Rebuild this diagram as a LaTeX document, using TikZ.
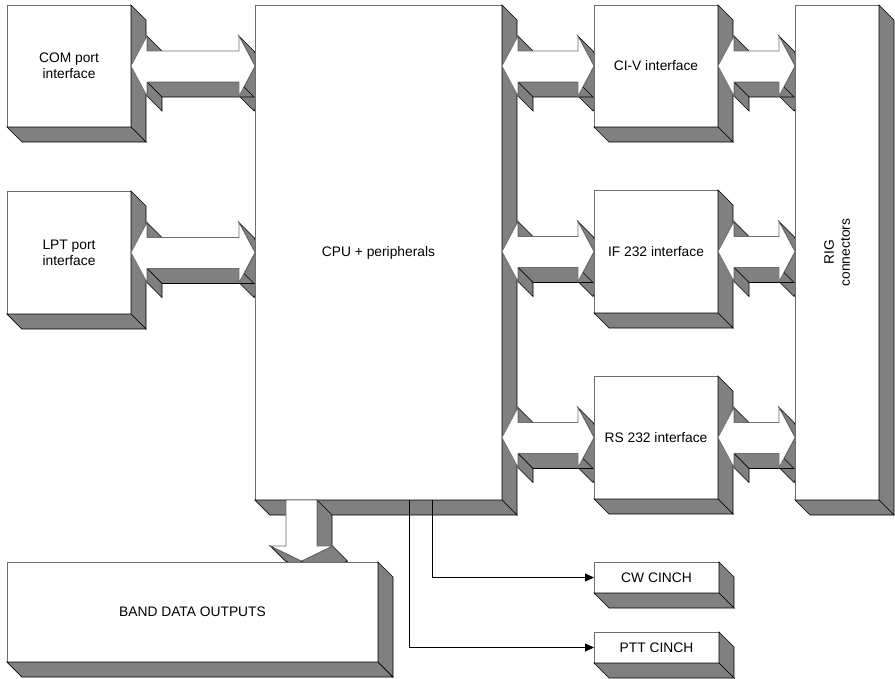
\documentclass[tikz,border=0pt]{standalone}
\usepackage{fontspec}
\setmainfont{Liberation Sans}
\usetikzlibrary{arrows.meta}
\definecolor{sidegray}{HTML}{808080}
\definecolor{frontline}{HTML}{6E6E6E}
\tikzset{
  side/.style={fill=sidegray, draw=black, line width=0.7pt, line join=miter},
  front/.style={fill=white, draw=frontline, line width=0.7pt},
  box/.style={front, inner sep=0pt, outer sep=0pt, align=center,
    font=\fontsize{13.8}{16}\selectfont},
  lbl/.style={inner sep=0pt, align=center, font=\fontsize{13.8}{16}\selectfont},
  wire/.style={draw=black, line width=0.9pt, -{Triangle[length=9pt,width=8pt]}}
}
% extruded polygon; list starts after the implicit first vertex 0/0 and ends with 0/0
\newcommand\solidpoly[1]{%
  \foreach \xa/\ya [remember=\xa as \xb (initially 0), remember=\ya as \yb (initially 0)] in {#1}{%
    \pgfmathsetmacro\face{((\ya)-(\yb))-((\xa)-(\xb))}%
    \ifdim\face pt>0pt
      \filldraw[side] (\xb,\yb) -- (\xa,\ya) -- (\xa+15,\ya+15) -- (\xb+15,\yb+15) -- cycle;
    \fi
  }%
  \filldraw[front] (0,0) \foreach \xa/\ya in {#1}{ -- (\xa,\ya)} -- cycle;
}
\newcommand\dblarrow[2]{%
  \begin{scope}[shift={(#1)}]
    \solidpoly{16/-30, 16/-15, #2-16/-15, #2-16/-30, #2/0, #2-16/30, #2-16/16, 16/16, 16/30, 0/0}
  \end{scope}}
\newcommand\boxsides[1]{%
  \filldraw[side] (#1.north east) -- ++(15,15) -- ([shift={(15,15)}]#1.south east) -- (#1.south east) -- cycle;
  \filldraw[side] (#1.south west) -- ++(15,15) -- ([shift={(15,15)}]#1.south east) -- (#1.south east) -- cycle;}
\begin{document}
\begin{tikzpicture}[x=1pt, y=-1pt]
\useasboundingbox (0,0) rectangle (895,678);
% left boxes
\node[box, minimum width=124pt, minimum height=122pt] (com) at (69,66) {COM port\\interface};
\boxsides{com}
\node[box, minimum width=124pt, minimum height=123pt] (lpt) at (69,252.5) {LPT port\\interface};
\boxsides{lpt}
% arrows left boxes -> CPU
\dblarrow{com.east}{124}
\dblarrow{lpt.east}{124}
% CPU
\node[box, minimum width=247pt, minimum height=495pt] (cpu) at (378.5,252.5) {CPU + peripherals};
\boxsides{cpu}
% arrows CPU -> right boxes
\coordinate (t1) at (cpu.east |- 0,66);
\coordinate (t2) at (cpu.east |- 0,251.5);
\coordinate (t3) at (cpu.east |- 0,437.5);
\dblarrow{t1}{92}
\dblarrow{t2}{92}
\dblarrow{t3}{92}
% arrow CPU -> band data
\begin{scope}[shift={([xshift=31pt]cpu.south west)}]
  \solidpoly{31/0, 31/46, 46.5/46, 15.5/61, -15.5/46, 0/46, 0/0}
\end{scope}
% right interface boxes
\node[box, minimum width=124pt, minimum height=122pt] (civ) at (656,66) {CI-V interface};
\boxsides{civ}
\node[box, minimum width=124pt, minimum height=123pt] (ifb) at (656,251.5) {IF 232 interface};
\boxsides{ifb}
\node[box, minimum width=124pt, minimum height=123pt] (rs) at (656,437.5) {RS 232 interface};
\boxsides{rs}
% arrows -> RIG
\dblarrow{civ.east}{77}
\dblarrow{ifb.east}{77}
\dblarrow{rs.east}{77}
% RIG connectors
\node[box, minimum width=84pt, minimum height=495pt] (rig) at (837,252.5) {};
\boxsides{rig}
\node[lbl, rotate=90] (rigtext) at (rig.center) {RIG\\connectors};
% band data outputs
\node[box, minimum width=371pt, minimum height=100pt] (band) at (192.5,612) {BAND DATA OUTPUTS};
\boxsides{band}
% CINCH outputs
\node[box, minimum width=125pt, minimum height=31pt] (cw) at (656.5,577.5) {CW CINCH};
\boxsides{cw}
\node[box, minimum width=125pt, minimum height=31pt] (ptt) at (656.5,647.5) {PTT CINCH};
\boxsides{ptt}
\draw[wire] ([xshift=177pt]cpu.south west) |- (cw.west);
\draw[wire] ([xshift=154pt]cpu.south west) |- (ptt.west);
\end{tikzpicture}
\end{document}
